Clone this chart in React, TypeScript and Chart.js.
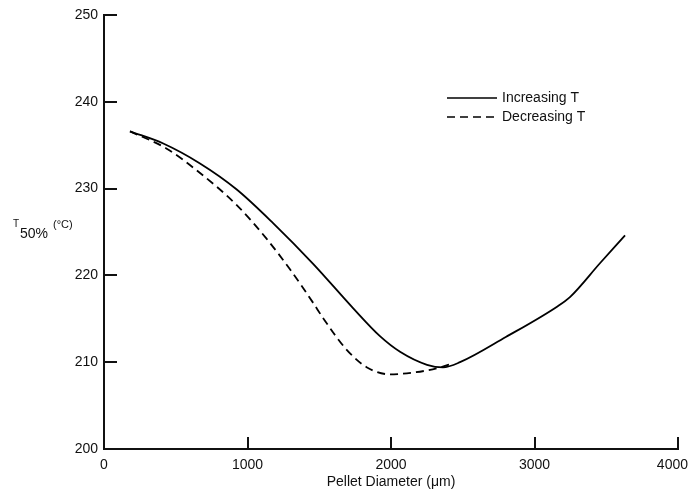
import React, { useEffect, useRef } from "react";
import { Chart, registerables } from "chart.js";

Chart.register(...registerables);

// Pellet diameter (µm) and T50% (°C)
const increasingX = [181, 413, 669, 925, 1180, 1459, 1737, 1923, 2063, 2251, 2362, 2481, 2800, 3157, 3247, 3456, 3631];
const increasingY = [236.6, 235.2, 232.9, 229.9, 226.0, 221.3, 216.2, 213.0, 211.2, 209.7, 209.4, 210.0, 212.9, 216.4, 217.5, 221.4, 224.6];

const decreasingX = [181, 437, 646, 925, 1134, 1296, 1459, 1526, 1693, 1833, 1993, 2153, 2321, 2420];
const decreasingY = [236.6, 234.6, 232.1, 228.1, 224.2, 220.7, 216.8, 215.1, 211.4, 209.4, 208.6, 208.8, 209.3, 209.8];

const seriesLabels = ["Increasing T", "Decreasing T"];
const xTicks = [0, 1000, 2000, 3000, 4000];
const yTicks = [200, 210, 220, 230, 240, 250];
const xTitle = "Pellet Diameter (\u03bcm)";

const FONT = "'Liberation Sans', Arial, Helvetica, sans-serif";
const INK = "#111";

const toPoints = (xs: number[], ys: number[]) => xs.map((x, i) => ({ x, y: ys[i] }));

const decorPlugin = {
  id: "decor",
  afterDraw(chart: any) {
    const ctx = chart.ctx;
    const xs = chart.scales.x;
    const ys = chart.scales.y;
    const area = chart.chartArea;
    ctx.save();
    ctx.strokeStyle = INK;
    ctx.lineWidth = 2;
    // inward tick marks
    yTicks.forEach((v) => {
      if (v === yTicks[0]) return;
      const py = Math.round(ys.getPixelForValue(v));
      ctx.beginPath();
      ctx.moveTo(area.left, py);
      ctx.lineTo(area.left + 13, py);
      ctx.stroke();
    });
    xTicks.forEach((v) => {
      if (v === xTicks[0]) return;
      const px = Math.round(xs.getPixelForValue(v));
      ctx.beginPath();
      ctx.moveTo(px, area.bottom);
      ctx.lineTo(px, area.bottom - 12);
      ctx.stroke();
    });

    // x tick labels (last one kept inside the canvas)
    ctx.fillStyle = INK;
    ctx.font = `14px ${FONT}`;
    ctx.textBaseline = "middle";
    ctx.textAlign = "center";
    xTicks.forEach((v) => {
      const label = String(v);
      const w = ctx.measureText(label).width;
      let px = xs.getPixelForValue(v);
      px = Math.min(px, chart.width - 1 - w / 2);
      ctx.fillText(label, px, area.bottom + 16);
    });

    // x axis title
    ctx.fillText(xTitle, (area.left + area.right) / 2, area.bottom + 33);

    // y axis title: T50% (°C)
    ctx.textAlign = "left";
    ctx.textBaseline = "alphabetic";
    ctx.font = `10px ${FONT}`;
    ctx.fillText("T", 13, 227);
    ctx.font = `14px ${FONT}`;
    ctx.fillText("50%", 20, 238);
    ctx.font = `11px ${FONT}`;
    ctx.fillText("(\u00b0C)", 53, 228);

    // legend
    const datasets = chart.data.datasets;
    datasets.forEach((ds: any, i: number) => {
      const ly = 98 + i * 19;
      ctx.beginPath();
      ctx.lineWidth = 1.6;
      ctx.strokeStyle = ds.borderColor;
      ctx.setLineDash(ds.borderDash || []);
      ctx.moveTo(447, ly);
      ctx.lineTo(497, ly);
      ctx.stroke();
      ctx.setLineDash([]);
      ctx.fillStyle = INK;
      ctx.font = `14px ${FONT}`;
      ctx.textAlign = "left";
      ctx.textBaseline = "middle";
      ctx.fillText(ds.label, 502, ly);
    });
    ctx.restore();
  },
};

export default function App() {
  const ref = useRef<HTMLCanvasElement | null>(null);
  useEffect(() => {
    if (!ref.current) return;
    const chart = new Chart(ref.current, {
      type: "line",
      data: {
        datasets: [
          {
            label: seriesLabels[0],
            data: toPoints(increasingX, increasingY),
            borderColor: "#000",
            borderWidth: 1.8,
            pointRadius: 0,
            cubicInterpolationMode: "monotone",
            fill: false,
          },
          {
            label: seriesLabels[1],
            data: toPoints(decreasingX, decreasingY),
            borderColor: "#000",
            borderWidth: 1.8,
            borderDash: [8, 5],
            pointRadius: 0,
            cubicInterpolationMode: "monotone",
            fill: false,
          },
        ],
      },
      options: {
        responsive: false,
        animation: false,
        devicePixelRatio: 1,
        layout: { padding: { top: 15, right: 11, left: 0, bottom: 0 } },
        plugins: { legend: { display: false }, tooltip: { enabled: false } },
        scales: {
          x: {
            type: "linear",
            min: 0,
            max: 4000,
            afterBuildTicks: (s: any) => {
              s.ticks = xTicks.map((v) => ({ value: v }));
            },
            afterFit: (s: any) => {
              s.height = 41;
              s.paddingLeft = 0;
              s.paddingRight = 0;
            },
            ticks: { display: false },
            grid: { display: true, drawOnChartArea: false, drawTicks: false, color: "rgba(0,0,0,0)" },
            border: { display: true, color: INK, width: 2 },
          },
          y: {
            type: "linear",
            min: 200,
            max: 250,
            afterBuildTicks: (s: any) => {
              s.ticks = yTicks.map((v) => ({ value: v }));
            },
            afterFit: (s: any) => {
              s.width = 104;
              s.paddingTop = 0;
              s.paddingBottom = 0;
            },
            ticks: {
              color: INK,
              font: { family: FONT, size: 14 },
              padding: 6,
              autoSkip: false,
              callback: (v: any) => String(v),
            },
            grid: { display: true, drawOnChartArea: false, drawTicks: false, color: "rgba(0,0,0,0)" },
            border: { display: true, color: INK, width: 2 },
          },
        },
      },
      plugins: [decorPlugin],
    } as any);
    return () => chart.destroy();
  }, []);
  return (
    <div style={{ position: "absolute", left: 0, top: 0, width: 689, height: 490, background: "#fff" }}>
      <canvas ref={ref} width={689} height={490} style={{ display: "block" }} />
    </div>
  );
}
